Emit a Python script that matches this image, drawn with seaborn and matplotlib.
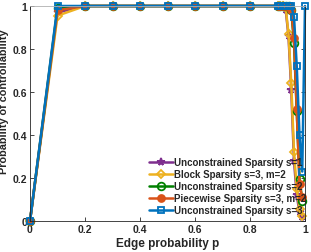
import numpy as np
import pandas as pd
import matplotlib
matplotlib.use("Agg")
import matplotlib.pyplot as plt
import seaborn as sns

# ---- data ----
p_grid = [0, 0.1, 0.2, 0.3, 0.4, 0.5, 0.6, 0.7, 0.8, 0.9,
          0.91, 0.92, 0.93, 0.94, 0.95, 0.96, 0.97, 0.98, 0.99]
p_blue = p_grid + [1.0]

unc_s1 = [0, 0.97, 1, 1, 1, 1, 1, 1, 1, 1,
          1, 1, 0.98, 0.86, 0.61, 0.28, 0.12, 0.04, 0.02]
block_s3m2 = [0, 0.955, 1, 1, 1, 1, 1, 1, 1, 1,
              1, 1, 0.99, 0.87, 0.64, 0.32, 0.15, 0.056, 0.025]
unc_s2 = [0, 0.99, 1, 1, 1, 1, 1, 1, 1, 1,
          1, 1, 1, 1, 0.98, 0.83, 0.51, 0.195, 0.094]
piece_s3m2 = [0, 0.98, 1, 1, 1, 1, 1, 1, 1, 1,
              1, 1, 1, 1, 0.98, 0.85, 0.52, 0.17, 0.11]
unc_s3 = [0, 1, 1, 1, 1, 1, 1, 1, 1, 1,
          1, 1, 1, 1, 1, 0.95, 0.72, 0.40, 0.23, 1.0]

labels = ["Unconstrained Sparsity s=1",
          "Block Sparsity s=3, m=2",
          "Unconstrained Sparsity s=2",
          "Piecewise Sparsity s=3, m=2",
          "Unconstrained Sparsity s=3"]

# ---- style ----
sns.set_style("ticks")
plt.rcParams['font.family'] = ['Liberation Sans', 'DejaVu Sans']
plt.rcParams['font.weight'] = 'bold'

fig = plt.figure(figsize=(3.11, 2.53), dpi=100)
ax = fig.add_axes([30/311, 1-222/253, 275/311, 215/253])

series = [
    (p_grid, unc_s1, labels[0], "#7E2F8E", "*", "#7E2F8E"),
    (p_grid, block_s3m2, labels[1], "#EDB120", "D", "none"),
    (p_grid, unc_s2, labels[2], "#008000", "o", "none"),
    (p_grid, piece_s3m2, labels[3], "#D95319", "o", "#D95319"),
    (p_blue, unc_s3, labels[4], "#0072BD", "s", "none"),
]
msizes = [5.5, 4.5, 5.5, 5, 4.5]
for (xs, ys, lab, col, mk, mfc), ms in zip(series, msizes):
    df = pd.DataFrame({"p": xs, "prob": ys})
    sns.lineplot(data=df, x="p", y="prob", ax=ax, color=col, label=lab,
                 marker=mk, markersize=ms, markerfacecolor=mfc,
                 markeredgecolor=col, markeredgewidth=1.3, linewidth=1.8,
                 sort=False, estimator=None, clip_on=False)

ax.set_xlim(0, 1)
ax.set_ylim(0, 1)
ax.set_xticks([0, 0.2, 0.4, 0.6, 0.8, 1])
ax.set_xticklabels(["0", "0.2", "0.4", "0.6", "0.8", "1"])
ax.set_yticks([0, 0.2, 0.4, 0.6, 0.8, 1])
ax.set_yticklabels(["0", "0.2", "0.4", "0.6", "0.8", "1"])
ax.tick_params(direction="in", length=3, width=0.6, colors="#262626",
               labelsize=7.5, top=True, right=True, pad=2)
for lbl in ax.get_xticklabels() + ax.get_yticklabels():
    lbl.set_fontweight('bold')
for s in ax.spines.values():
    s.set_visible(True)
    s.set_color("#262626")
    s.set_linewidth(0.6)
ax.spines['top'].set_color("#b0b0b0")

ax.set_xlabel("Edge probability p", fontsize=8.5, fontweight='bold', labelpad=2)
ax.set_ylabel("Probability of controllability", fontsize=7.8, fontweight='bold', labelpad=1)
ax.yaxis.set_label_coords(-0.078, 0.56)

leg = ax.legend(loc="lower right", bbox_to_anchor=(1.03, -0.005), frameon=False,
                fontsize=7, handlelength=2.4, handletextpad=0.15,
                labelspacing=0.2, borderpad=0.2)
for t in leg.get_texts():
    t.set_fontweight('bold')

fig.savefig("out.png", dpi=100)
